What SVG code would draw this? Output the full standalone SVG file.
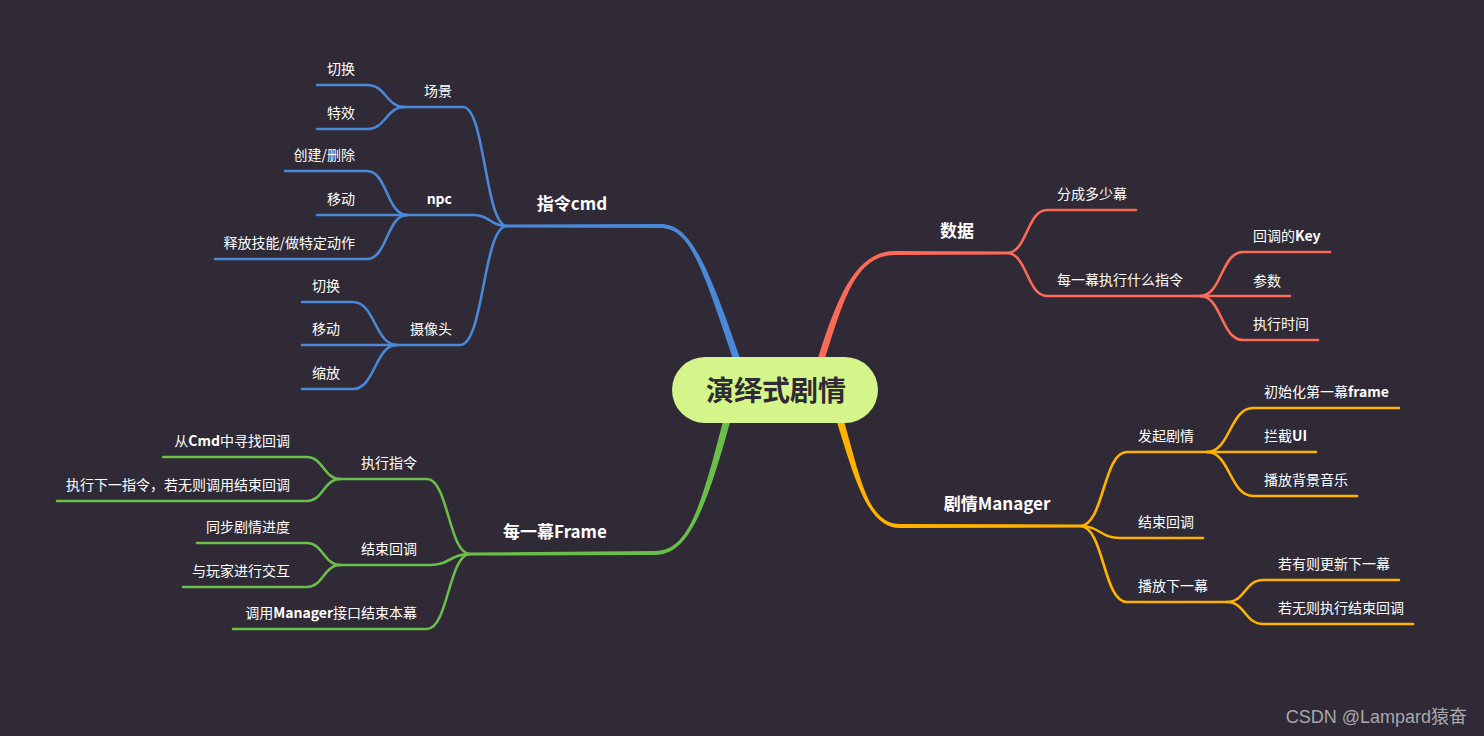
<svg xmlns="http://www.w3.org/2000/svg" width="1484" height="736" viewBox="0 0 1484 736">
<style>
.bg{fill:#2f2a35}
.c{fill:none;stroke-width:2.6;stroke-linecap:round;stroke-linejoin:round}
.b{stroke:#4a88d8}.g{stroke:#6abf4b}.r{stroke:#fd6a58}.o{stroke:#ffb200}
.t{font-family:"Noto Sans CJK SC","Noto Sans",sans-serif;font-size:14px;fill:#ffffff}
.m{font-family:"Noto Sans CJK SC","Noto Sans",sans-serif;font-size:17px;font-weight:700;fill:#ffffff;text-anchor:middle}
.e{text-anchor:end}
.L{font-weight:700}
.root{fill:#d3f58a}
.rt{font-family:"Noto Sans CJK SC","Noto Sans",sans-serif;font-size:28px;font-weight:700;fill:#2f2a35;text-anchor:middle}
.wm{font-family:"Liberation Sans","Noto Sans CJK SC",sans-serif;font-size:18px;fill:#a9a8ad;text-anchor:end}
</style>
<rect class="bg" x="0" y="0" width="1484" height="736"/>
<g id="connectors">
  <!-- main branches (tapered) -->
  <path fill="#4a88d8" d="M507 224.5 L660 224 C688 223.6 704.8 255 740.3 358.9 L733.7 361.1 C699.2 257 688 228.4 660 228 L507 227.5 Z"/>
  <path fill="#6abf4b" d="M470 552.5 L655 551 C688 551 700.3 509.3 723.6 419.1 L730.4 420.9 C705.7 510.7 688 555 655 555 L470 555.5 Z"/>
  <path fill="#fd6a58" d="M1007 251.5 L895 251 C855 251 836.7 298.9 817.7 358.9 L824.3 361.1 C843.3 301.1 855 255 895 255 L1007 254.5 Z"/>
  <path fill="#ffb200" d="M1080 524.5 L900 524 C868 524 860.7 479.2 843.4 419 L836.6 421 C855.3 480.8 868 528 900 528 L1080 527.5 Z"/>
  <!-- blue -->
  <path class="c b" d="M405 107 L463 107 C485 107 485 226 507 226"/>
  <path class="c b" d="M407 215 L473 215 C490 215 490 226 507 226"/>
  <path class="c b" d="M397 345 L460 345 C484 345 483 226 507 226"/>
  <path class="c b" d="M317 85 L367 85 C386 85 386 107 405 107"/>
  <path class="c b" d="M317 129 L367 129 C386 129 386 107 405 107"/>
  <path class="c b" d="M285 171 L367 171 C387 171 387 215 407 215"/>
  <path class="c b" d="M317 215 L407 215"/>
  <path class="c b" d="M215 259 L367 259 C387 259 387 215 407 215"/>
  <path class="c b" d="M302 302 L353 302 C375 302 375 345 397 345"/>
  <path class="c b" d="M302 345 L397 345"/>
  <path class="c b" d="M302 389 L353 389 C375 389 375 345 397 345"/>
  <!-- green -->
  <path class="c g" d="M340 479 L427 479 C448 479 449 554 470 554"/>
  <path class="c g" d="M340 565 L430 565 C450 565 450 554 470 554"/>
  <path class="c g" d="M233 629 L427 629 C448 629 449 554 470 554"/>
  <path class="c g" d="M163 457 L307 457 C323 457 324 479 340 479"/>
  <path class="c g" d="M57 501 L307 501 C323 501 324 479 340 479"/>
  <path class="c g" d="M197 543 L307 543 C323 543 324 565 340 565"/>
  <path class="c g" d="M183 587 L307 587 C323 587 324 565 340 565"/>
  <!-- red -->
  <path class="c r" d="M1007 253 C1027 253 1027 210 1047 210 L1136 210"/>
  <path class="c r" d="M1007 253 C1027 253 1027 296 1047 296 L1200 296"/>
  <path class="c r" d="M1200 296 C1222 296 1221 252 1243 252 L1330 252"/>
  <path class="c r" d="M1200 296 L1290 296"/>
  <path class="c r" d="M1200 296 C1222 296 1221 340 1243 340 L1318 340"/>
  <!-- orange -->
  <path class="c o" d="M1080 526 C1104 526 1103 452 1127 452 L1207 452"/>
  <path class="c o" d="M1080 526 C1100 526 1100 538 1120 538 L1203 538"/>
  <path class="c o" d="M1080 526 C1104 526 1103 602 1127 602 L1227 602"/>
  <path class="c o" d="M1207 452 C1230 452 1230 408 1253 408 L1399 408"/>
  <path class="c o" d="M1207 452 L1316 452"/>
  <path class="c o" d="M1207 452 C1230 452 1230 496 1253 496 L1357 496"/>
  <path class="c o" d="M1227 602 C1245 602 1245 580 1263 580 L1399 580"/>
  <path class="c o" d="M1227 602 C1245 602 1245 624 1263 624 L1413 624"/>
</g>
<g id="root">
  <rect class="root" x="672" y="357" width="206" height="66" rx="33" ry="33"/>
  <text class="rt" x="776" y="401">演绎式剧情</text>
</g>
<g id="n-cmd"><text class="m" x="572" y="210">指令cmd</text></g>
<g id="n-scene"><text class="t e" x="452" y="96">场景</text></g>
<g id="n-scene-switch"><text class="t e" x="355" y="74">切换</text></g>
<g id="n-scene-fx"><text class="t e" x="355" y="118">特效</text></g>
<g id="n-npc"><text class="t e L" x="452" y="204">npc</text></g>
<g id="n-npc-create"><text class="t e" x="355" y="160">创建/删除</text></g>
<g id="n-npc-move"><text class="t e" x="355" y="204">移动</text></g>
<g id="n-npc-skill"><text class="t e" x="355" y="248">释放技能/做特定动作</text></g>
<g id="n-cam"><text class="t e" x="452" y="334">摄像头</text></g>
<g id="n-cam-switch"><text class="t e" x="340" y="291">切换</text></g>
<g id="n-cam-move"><text class="t e" x="340" y="334">移动</text></g>
<g id="n-cam-zoom"><text class="t e" x="340" y="378">缩放</text></g>

<g id="n-frame"><text class="m" x="555" y="538">每一幕Frame</text></g>
<g id="n-exec"><text class="t e" x="417" y="468">执行指令</text></g>
<g id="n-exec-find"><text class="t e" x="290" y="446">从<tspan class="L">Cmd</tspan>中寻找回调</text></g>
<g id="n-exec-next"><text class="t e" x="290" y="490">执行下一指令，若无则调用结束回调</text></g>
<g id="n-endcb"><text class="t e" x="417" y="554">结束回调</text></g>
<g id="n-endcb-sync"><text class="t e" x="290" y="532">同步剧情进度</text></g>
<g id="n-endcb-interact"><text class="t e" x="290" y="576">与玩家进行交互</text></g>
<g id="n-callmgr"><text class="t e" x="417" y="618">调用<tspan class="L">Manager</tspan>接口结束本幕</text></g>

<g id="n-data"><text class="m" x="957" y="237">数据</text></g>
<g id="n-data-count"><text class="t" x="1057" y="199">分成多少幕</text></g>
<g id="n-data-cmd"><text class="t" x="1057" y="285">每一幕执行什么指令</text></g>
<g id="n-data-key"><text class="t" x="1253" y="241">回调的<tspan class="L">Key</tspan></text></g>
<g id="n-data-param"><text class="t" x="1253" y="286">参数</text></g>
<g id="n-data-time"><text class="t" x="1253" y="329">执行时间</text></g>

<g id="n-mgr"><text class="m" x="997" y="510">剧情Manager</text></g>
<g id="n-start"><text class="t" x="1138" y="441">发起剧情</text></g>
<g id="n-start-init"><text class="t" x="1264" y="397">初始化第一幕<tspan class="L">frame</tspan></text></g>
<g id="n-start-ui"><text class="t" x="1264" y="441">拦截<tspan class="L">UI</tspan></text></g>
<g id="n-start-music"><text class="t" x="1264" y="485">播放背景音乐</text></g>
<g id="n-mgr-end"><text class="t" x="1138" y="527">结束回调</text></g>
<g id="n-next"><text class="t" x="1138" y="591">播放下一幕</text></g>
<g id="n-next-yes"><text class="t" x="1278" y="569">若有则更新下一幕</text></g>
<g id="n-next-no"><text class="t" x="1278" y="613">若无则执行结束回调</text></g>

<text class="wm" x="1467" y="723">CSDN @Lampard猿奋</text>
</svg>
